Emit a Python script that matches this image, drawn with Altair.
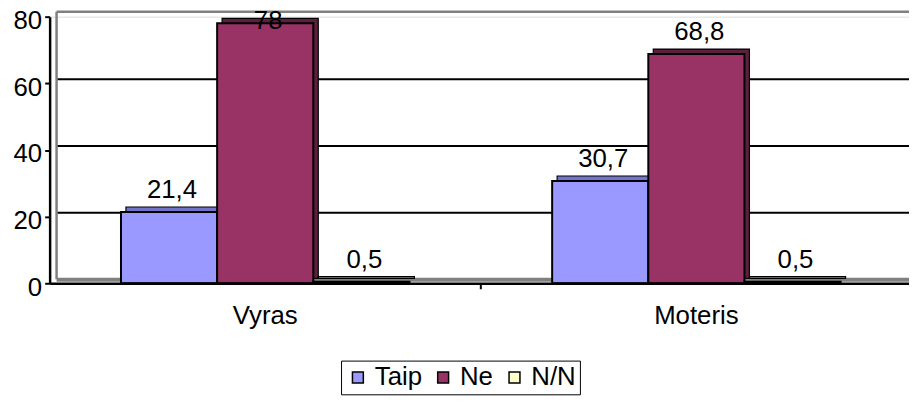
import altair as alt
import pandas as pd

categories = ["Vyras", "Moteris"]
series = ["Taip", "Ne", "N/N"]
taip = [21.4, 30.7]
ne = [78, 68.8]
nn = [0.5, 0.5]
y_ticks = [0, 20, 40, 60, 80]
grid_values = [20, 40, 60]

colors = ["#9999FF", "#993366", "#FFFFCC"]
shade = ["#7373CC", "#5C1F3D", "#C6C69C"]

rows = []
for i, c in enumerate(categories):
    for s, vals in zip(series, [taip, ne, nn]):
        rows.append({"category": c, "series": s, "value": vals[i]})
df = pd.DataFrame(rows)

W, H = 867, 269
XR = 870
FONT = "Liberation Sans"
DEPTH = 5
PO = 0.742
BAND = (XR / 2) / (3 + 2 * PO)          # width of one bar
FIRST_C = PO * BAND + BAND / 2          # centre of first bar inside a group
LAST_C = XR / 2 - FIRST_C               # centre of last bar inside a group

yscale = alt.Scale(domain=[0, 80], nice=False, zero=True)
xscale = alt.Scale(paddingInner=0, paddingOuter=0, range=[0, XR])

x_enc = alt.X(
    "category:N", sort=categories, scale=xscale,
    axis=alt.Axis(title=None, labelAngle=0, ticks=False, labelFontSize=26, labelFont=FONT,
                  labelColor="black", labelPadding=20, domain=True, domainColor="black",
                  domainWidth=2.5, grid=False, zindex=1),
)
y_enc = alt.Y(
    "value:Q", scale=yscale,
    axis=alt.Axis(title=None, values=y_ticks, grid=False, domainColor="black", domainWidth=2.5,
                  tickColor="black", tickWidth=2, tickSize=5, labelFontSize=26, labelFont=FONT,
                  labelColor="black", labelPadding=3, labelOffset=4, zindex=1),
)

base = alt.Chart(df)


def offset_enc(shift=0):
    sc = alt.Scale(domain=series, range=[shift, XR / 2 + shift], paddingOuter=PO, paddingInner=0)
    return alt.XOffset("series:N", sort=series, scale=sc)


shadows = []
for s, col in zip(series, shade):
    shadows.append(
        base.transform_filter(alt.datum.series == s)
        .mark_bar(fill=col, stroke="black", strokeWidth=1.2, yOffset=-DEPTH, y2Offset=-DEPTH)
        .encode(x=x_enc, xOffset=offset_enc(DEPTH), y=y_enc)
    )

bars = base.mark_bar(stroke="black", strokeWidth=2).encode(
    x=x_enc,
    xOffset=offset_enc(),
    y=y_enc,
    color=alt.Color(
        "series:N", sort=series, scale=alt.Scale(domain=series, range=colors),
        legend=alt.Legend(
            title=None, orient="none", legendX=294, legendY=347, direction="horizontal",
            symbolType="square", symbolSize=121, symbolStrokeColor="black", symbolStrokeWidth=1.5,
            labelFont=FONT, labelFontSize=26, labelColor="black",
            labelOffset=4, columnPadding=8, padding=4, strokeColor="black",
        ),
    ),
)

# point scale whose points sit at the bar centres
text_offset = alt.XOffset(
    "series:N", sort=series,
    scale=alt.Scale(type="point", domain=series, range=[FIRST_C, LAST_C], padding=0),
)

text = base.transform_calculate(
    label="replace(toString(datum.value), '.', ',')",
    ly="min(datum.value, 72)",
).mark_text(font=FONT, fontSize=26, color="black", baseline="alphabetic", dy=-14, dx=3).encode(
    x=x_enc,
    xOffset=text_offset,
    y=alt.Y("ly:Q", scale=yscale),
    text="label:N",
)

grid_df = pd.DataFrame({"v": grid_values})
grid = alt.Chart(grid_df).mark_rule(color="black", strokeWidth=2, yOffset=-4).encode(
    y=alt.Y("v:Q", scale=yscale), x=alt.value(7), x2=alt.value(W)
)

top_df = pd.DataFrame({"v": [80]})
top_line = alt.Chart(top_df).mark_rule(color="#808080", strokeWidth=2.5, yOffset=-5).encode(
    y=alt.Y("v:Q", scale=yscale), x=alt.value(7), x2=alt.value(W)
)

wall_df = pd.DataFrame({"top": [80], "bottom": [0]})
wall = alt.Chart(wall_df).mark_rule(color="#808080", strokeWidth=2.5, yOffset=-5, y2Offset=-4).encode(
    x=alt.value(7), y=alt.Y("top:Q", scale=yscale), y2="bottom:Q"
)

floor_df = pd.DataFrame({"v": [0]})
floor = alt.Chart(floor_df).mark_rule(color="#808080", strokeWidth=4, yOffset=-3.5).encode(
    y=alt.Y("v:Q", scale=yscale), x=alt.value(7), x2=alt.value(W)
)

tick_df = pd.DataFrame({"category": [categories[1]]})
cat_tick = alt.Chart(tick_df).mark_rule(color="black", strokeWidth=2).encode(
    x=alt.X("category:N", sort=categories, scale=xscale, bandPosition=0),
    y=alt.value(H), y2=alt.value(H + 6),
)

chart = alt.layer(
    grid, top_line, wall, floor, *shadows, bars, text, cat_tick
).resolve_scale(xOffset="independent").properties(
    width=W, height=H,
    autosize=alt.AutoSizeParams(type="none"),
    padding={"left": 42, "top": 7, "right": 0, "bottom": 115},
).configure_view(stroke=None).configure(background="white")

chart.save("out.html", embed_options={"renderer": "svg", "actions": False})
